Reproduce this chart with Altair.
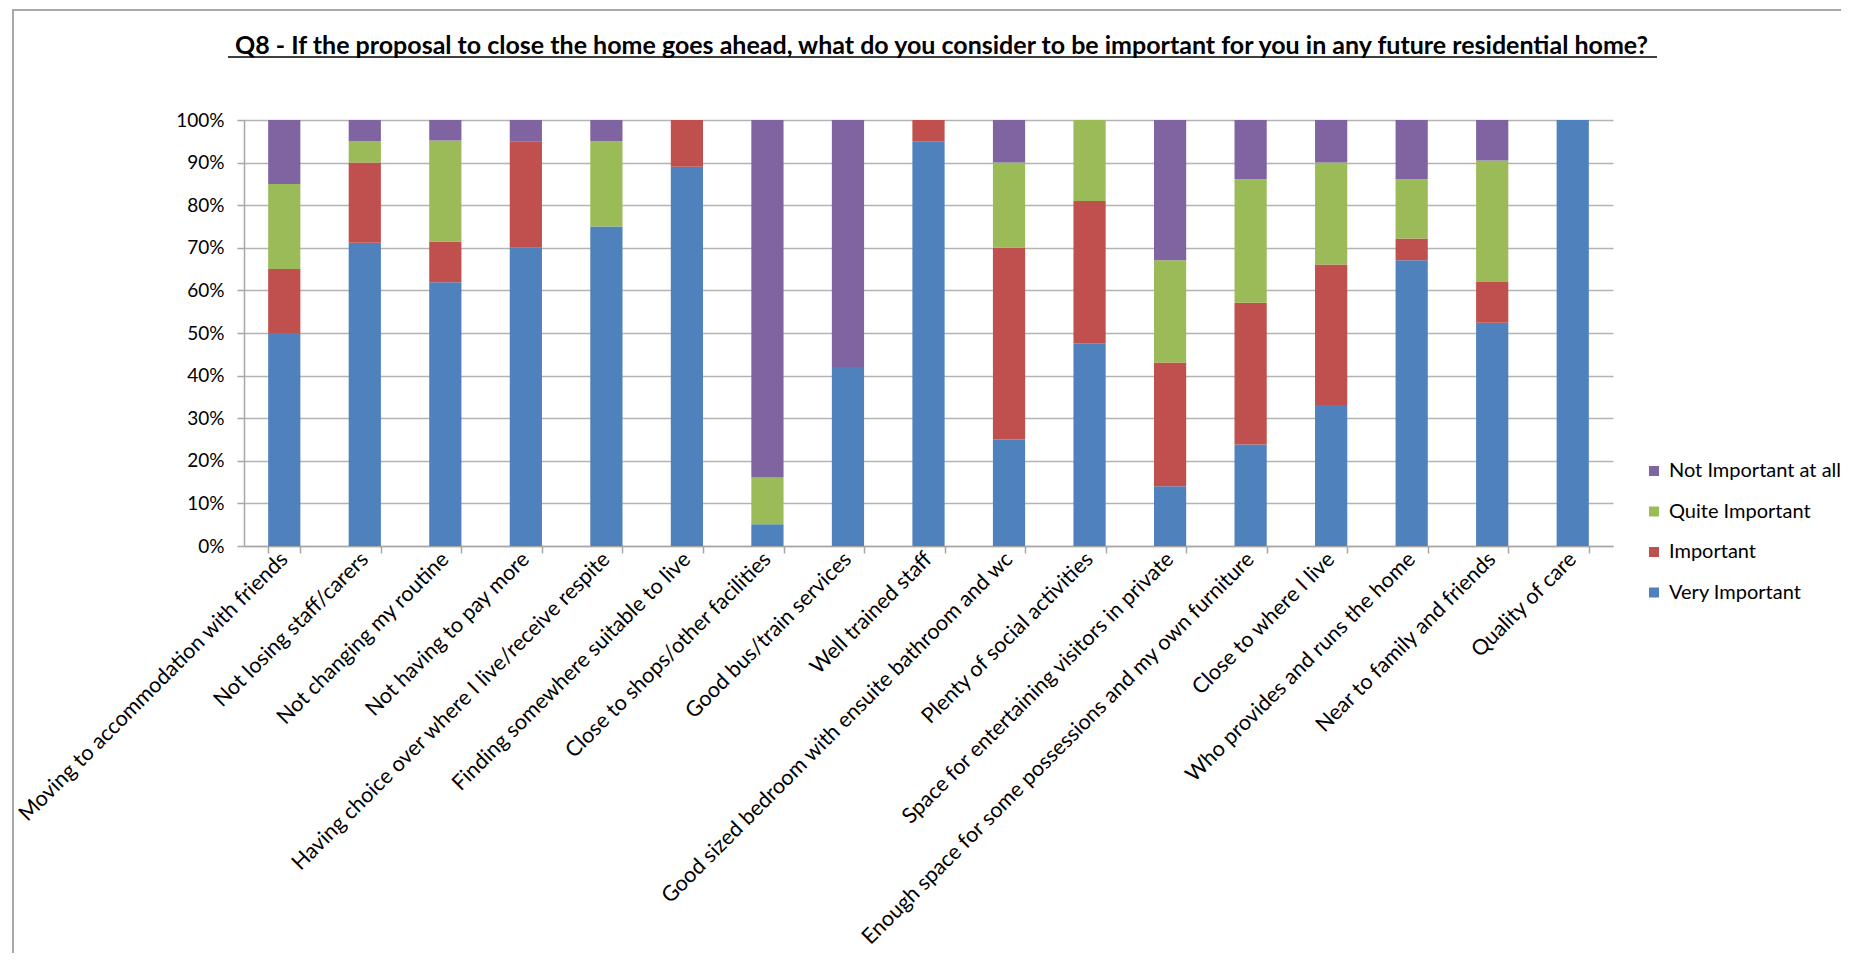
import altair as alt
import pandas as pd

categories = [
    "Moving to accommodation with friends",
    "Not losing staff/carers",
    "Not changing my routine",
    "Not having to pay more",
    "Having choice over where I live/receive respite",
    "Finding somewhere suitable to live",
    "Close to shops/other facilities",
    "Good bus/train services",
    "Well trained staff",
    "Good sized bedroom with ensuite bathroom and wc",
    "Plenty of social activities",
    "Space for entertaining visitors in private",
    "Enough space for some possessions and my own furniture",
    "Close to where I live",
    "Who provides and runs the home",
    "Near to family and friends",
    "Quality of care",
]

very_important = [50.0, 71.2, 61.9, 70.0, 75.0, 89.0, 5.1, 42.0, 95.0, 25.0, 47.6, 14.0, 23.8, 33.1, 67.1, 52.4, 100.0]
important = [15.0, 18.8, 9.6, 25.0, 0.0, 11.0, 0.0, 0.0, 5.0, 45.0, 33.4, 29.1, 33.3, 33.0, 5.1, 9.6, 0.0]
quite_important = [20.0, 5.0, 23.7, 0.0, 20.0, 0.0, 11.0, 0.0, 0.0, 20.0, 19.0, 24.0, 29.0, 23.9, 13.9, 28.5, 0.0]
not_important = [15.0, 5.0, 4.8, 5.0, 5.0, 0.0, 83.9, 58.0, 0.0, 10.0, 0.0, 32.9, 13.9, 10.0, 13.9, 9.5, 0.0]

series_names = ["Very Important", "Important", "Quite Important", "Not Important at all"]
series_values = [very_important, important, quite_important, not_important]
series_colors = ["#4F81BD", "#C0504D", "#9BBB59", "#8064A2"]

y_ticks = [0, 0.1, 0.2, 0.3, 0.4, 0.5, 0.6, 0.7, 0.8, 0.9, 1.0]

title_text = "Q8 - If the proposal to close the home goes ahead, what do you consider to be important for you in any future residential home?"

rows = []
for s_idx, (name, vals) in enumerate(zip(series_names, series_values)):
    for cat, v in zip(categories, vals):
        if v > 0:
            rows.append({"category": cat, "series": name, "value": v / 100.0, "ord": s_idx})
df = pd.DataFrame(rows)

FONT = "Lato"
GREY = "#A6A6A6"

legend_domain = list(reversed(series_names))
legend_range = list(reversed(series_colors))

bars = alt.Chart(df).mark_bar().encode(
    x=alt.X(
        "category:N",
        sort=categories,
        title=None,
        scale=alt.Scale(paddingInner=0.6, paddingOuter=0.3),
        axis=alt.Axis(
            labelAngle=-45,
            labelAlign="right",
            labelBaseline="middle",
            labelFontSize=21.5,
            labelFont=FONT,
            labelColor="#000000",
            labelPadding=3,
            labelLimit=0,
            tickBand="extent",
            tickSize=7,
            tickColor=GREY,
            domainColor=GREY,
            domainWidth=1.5,
            tickWidth=1.5,
            grid=False,
        ),
    ),
    y=alt.Y(
        "value:Q",
        stack="zero",
        title=None,
        scale=alt.Scale(domain=[0, 1], nice=False),
        axis=alt.Axis(
            values=y_ticks,
            format=".0%",
            labelFontSize=19,
            labelFont=FONT,
            labelColor="#000000",
            labelPadding=13,
            tickSize=7,
            tickColor=GREY,
            tickWidth=1.5,
            domainColor=GREY,
            domainWidth=1.5,
            gridColor="#B3B3B3",
            gridWidth=1.5,
        ),
    ),
    color=alt.Color(
        "series:N",
        scale=alt.Scale(domain=legend_domain, range=legend_range),
        legend=alt.Legend(
            title=None,
            orient="none",
            legendX=1400,
            legendY=341,
            symbolType="square",
            symbolSize=100,
            symbolStrokeWidth=0,
            labelFontSize=20,
            labelFont=FONT,
            labelColor="#000000",
            labelLimit=0,
            rowPadding=20.5,
            labelOffset=5,
        ),
    ),
    order=alt.Order("ord:Q", sort="ascending"),
)

deco = pd.DataFrame({"k": [0]})

border = alt.Chart(deco).mark_rect(fill=None, stroke="#8C8C8C", strokeWidth=1.5).encode(
    x=alt.value(-231), x2=alt.value(1800), y=alt.value(-110), y2=alt.value(1000)
)

underline = alt.Chart(deco).mark_rule(color="#000000", strokeWidth=1.5).encode(
    x=alt.value(-16), x2=alt.value(1413), y=alt.value(-63)
)

chart = alt.layer(border, bars, underline).properties(
    width=1369,
    height=426,
    title=alt.TitleParams(
        text=title_text,
        font=FONT,
        fontSize=25,
        fontWeight="bold",
        color="#000000",
        anchor="middle",
        frame="group",
        offset=-50,
        dx=13,
    ),
    autosize=alt.AutoSizeParams(type="none"),
    padding={"left": 236, "top": 112, "right": 228, "bottom": 407},
).configure_view(stroke=None)

chart.save("out.html", embed_options={"renderer": "svg", "actions": False})
